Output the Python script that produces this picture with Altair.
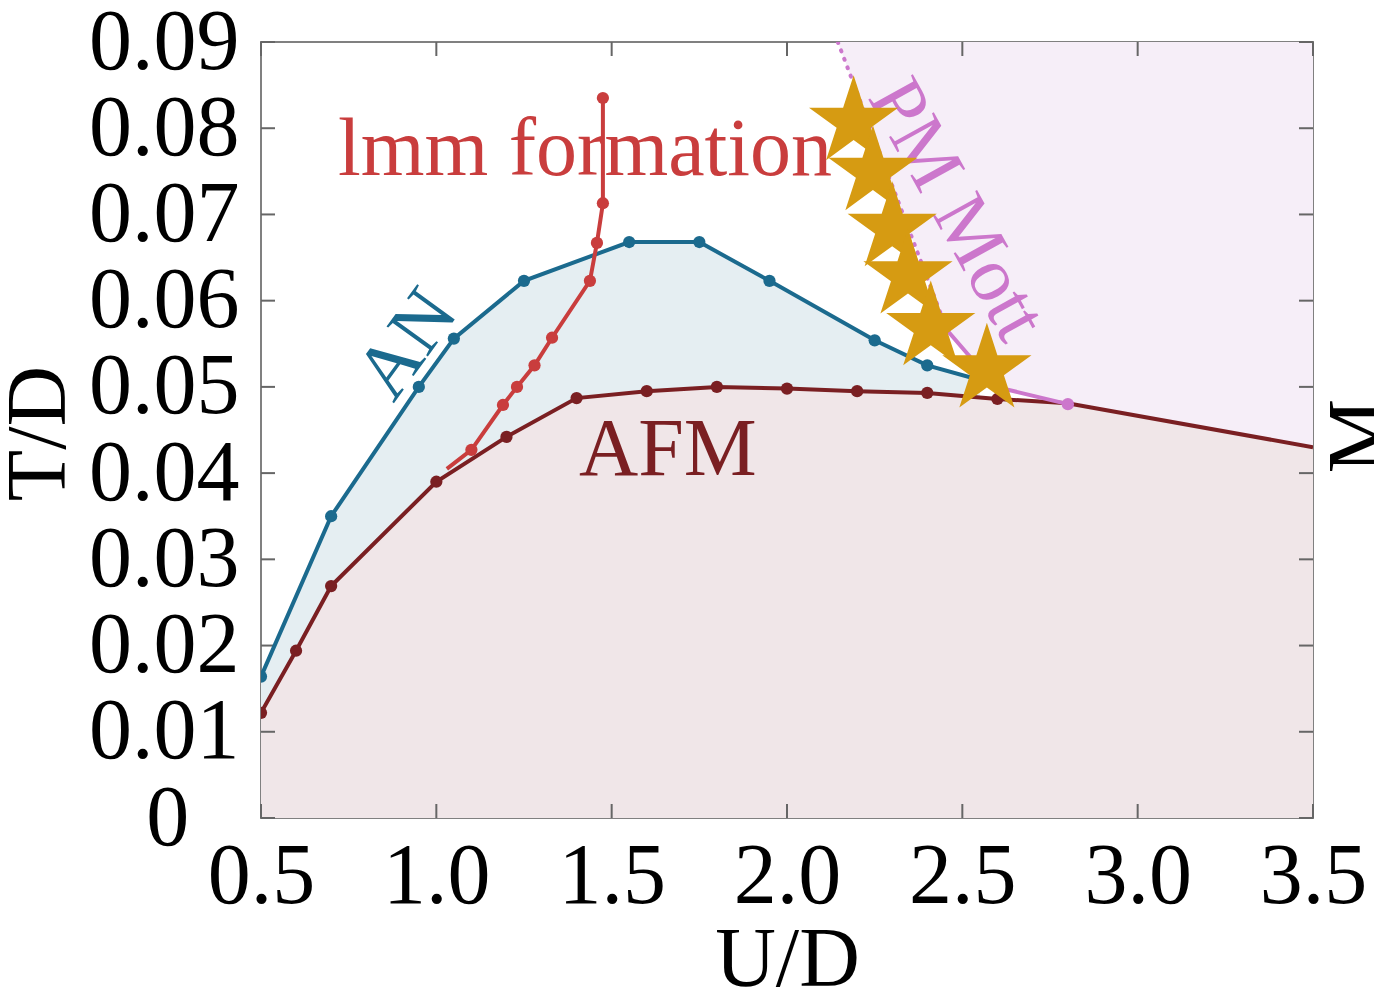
import altair as alt
import pandas as pd

# Phase boundaries in the (U/D, T/D) plane
an_U = [0.5, 0.7, 0.95, 1.05, 1.25, 1.55, 1.75, 1.95, 2.25, 2.4, 2.55]
an_T = [0.0164, 0.035, 0.050, 0.0556, 0.0623, 0.0668, 0.0668, 0.0623, 0.0554, 0.0525, 0.0508]

afm_U = [0.5, 0.6, 0.7, 1.0, 1.2, 1.4, 1.6, 1.8, 2.0, 2.2, 2.4, 2.6, 2.8, 3.5]
afm_T = [0.0122, 0.0194, 0.0269, 0.039, 0.0442, 0.0487, 0.0495, 0.050, 0.0498, 0.0495, 0.0493, 0.0486, 0.0481, 0.043]
afm_marked = 12  # computed points; the rest of the curve is an extrapolation

mm_U = [1.03, 1.1, 1.19, 1.23, 1.28, 1.33, 1.438, 1.458, 1.475, 1.475]
mm_T = [0.0405, 0.0427, 0.0479, 0.050, 0.0525, 0.0557, 0.0623, 0.0667, 0.0713, 0.0835]

pm_U = [2.145, 2.456, 2.596, 2.801]
pm_T = [0.09, 0.0566, 0.050, 0.048]

star_U = [2.19, 2.245, 2.30, 2.345, 2.41, 2.57]
star_T = [0.0807, 0.0749, 0.0684, 0.0629, 0.0569, 0.052]

x_ticks = [0.5, 1.0, 1.5, 2.0, 2.5, 3.0, 3.5]
y_ticks = [0, 0.01, 0.02, 0.03, 0.04, 0.05, 0.06, 0.07, 0.08, 0.09]

BLUE = "#1b6a8e"
DARKRED = "#7a1f22"
RED = "#c93d3d"
PINK = "#cc77cc"
GOLD = "#d69b12"
SERIF = "Liberation Serif"
STAR_PATH = ("M0,-1L0.2245,-0.309L0.951,-0.309L0.363,0.118L0.588,0.809L0,0.382"
             "L-0.588,0.809L-0.363,0.118L-0.951,-0.309L-0.2245,-0.309Z")

W, H = 1052, 776


def frame(u, t):
    return pd.DataFrame({"U": u, "T": t, "i": range(len(u))})


an = frame(an_U, an_T)
afm = frame(afm_U, afm_T)
mm = frame(mm_U, mm_T)
pm = frame(pm_U, pm_T)
stars = frame(star_U, star_T)
# Mott region: above the PM line, then above the AFM line beyond its end point
pm_fill = frame(pm_U + [u for u in afm_U if u > pm_U[-1]],
                pm_T + [t for u, t in zip(afm_U, afm_T) if u > pm_U[-1]])

xs = alt.Scale(domain=[0.5, 3.5], nice=False, zero=False)
ys = alt.Scale(domain=[0, 0.09], nice=False, zero=True)

xq = alt.X("U:Q", scale=xs)
yq = alt.Y("T:Q", scale=ys)

# the zero label is padded so it sits left of the two-decimal labels
ZERO_LABEL = "0\u00a0\u00a0\u200a\u200b"

X_axis = alt.X("U:Q", scale=xs,
               axis=alt.Axis(orient="bottom", values=x_ticks, format=".1f", title="U/D",
                             labelFlush=False, labelPadding=16, titleY=167,
                             titleBaseline="alphabetic"))
Y_axis = alt.Y("T:Q", scale=ys,
               axis=alt.Axis(orient="left", values=y_ticks, title="T/D",
                             labelExpr=f"datum.value == 0 ? '{ZERO_LABEL}' : format(datum.value, '.2f')",
                             labelFlush=False, labelPadding=22,
                             titleAngle=270, titleX=-222, titleY=391,
                             titleAlign="center", titleBaseline="middle"))

# shaded regions: Mott, then AN (down to zero), then AFM on top of it
pm_area = alt.Chart(pm_fill).mark_area(color="#f6eef8", clip=True).encode(
    x=X_axis, y=Y_axis, y2=alt.datum(0.09))
an_area = alt.Chart(an).mark_area(color="#e5eef2", clip=True).encode(x=xq, y=yq, y2=alt.datum(0))
afm_area = alt.Chart(afm).mark_area(color="#f0e6e8", clip=True).encode(x=xq, y=yq, y2=alt.datum(0))

# inward ticks on all four sides
xt = pd.DataFrame({"U": x_ticks})
yt = pd.DataFrame({"T": y_ticks})
tick_style = dict(color="#666666", strokeWidth=2)
ticks = [
    alt.Chart(xt).mark_rule(**tick_style).encode(x=xq, y=alt.value(H), y2=alt.value(H - 14)),
    alt.Chart(xt).mark_rule(**tick_style).encode(x=xq, y=alt.value(0), y2=alt.value(14)),
    alt.Chart(yt).mark_rule(**tick_style).encode(y=yq, x=alt.value(0), x2=alt.value(14)),
    alt.Chart(yt).mark_rule(**tick_style).encode(y=yq, x=alt.value(W), x2=alt.value(W - 14)),
]


def label(text, u, t, color, size, angle=0):
    return alt.Chart(pd.DataFrame({"t": [text]})).mark_text(
        font=SERIF, fontSize=size, color=color, angle=angle,
        align="center", baseline="middle").encode(
        x=alt.datum(u, scale=xs), y=alt.datum(t, scale=ys), text="t:N")


texts = [
    label("lmm formation", 1.424, 0.0775, RED, 82),
    label("AN", 0.919, 0.0549, BLUE, 78, 306),
    label("AFM", 1.66, 0.0427, DARKRED, 82),
    label("PM Mott", 2.482, 0.0705, PINK, 78, 61),
    label("M", 3.637, 0.0443, "black", 84, 270),
]


def curve(df, color, dash=None):
    kw = dict(color=color, strokeWidth=4, clip=True)
    if dash:
        kw["strokeDash"] = dash
        kw["strokeCap"] = "round"
    return alt.Chart(df).mark_line(**kw).encode(x=xq, y=yq, order="i:Q")


def dots(df, color):
    return alt.Chart(df).mark_circle(color=color, size=150, opacity=1, clip=True).encode(x=xq, y=yq)


lines = [
    curve(afm, DARKRED),
    dots(afm.iloc[:afm_marked], DARKRED),
    curve(an, BLUE),
    dots(an, BLUE),
    curve(pm.iloc[:2], PINK, [1, 8]),
    curve(pm.iloc[1:], PINK),
    dots(pm.iloc[-1:], PINK),
    curve(mm, RED),
    dots(mm.iloc[1:], RED),
]

star_layer = alt.Chart(stars).mark_point(
    shape=STAR_PATH, filled=True, color=GOLD, size=8800, opacity=1).encode(x=xq, y=yq)

chart = alt.layer(
    pm_area, an_area, afm_area, *ticks, *texts, *lines, star_layer
).properties(
    width=W, height=H,
    autosize=alt.AutoSizeParams(type="none"),
    padding={"left": 261, "top": 42, "right": 61, "bottom": 177},
    background="white",
).configure_view(
    stroke="#808080", strokeWidth=2
).configure_axis(
    labelFont=SERIF, titleFont=SERIF, labelFontSize=86, titleFontSize=84,
    labelColor="black", titleColor="black", titleFontWeight="normal",
    ticks=False, domain=False, grid=False,
)

chart.save("out.html", embed_options={"renderer": "svg", "actions": False})
